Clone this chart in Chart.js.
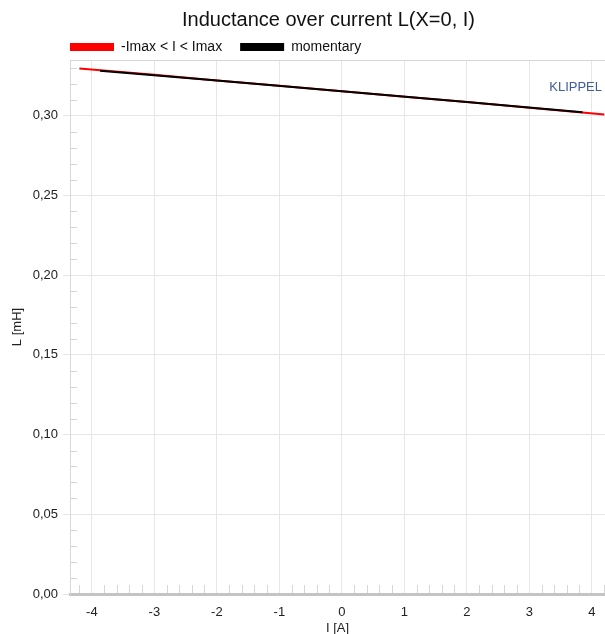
<!DOCTYPE html>
<html>
<head>
<meta charset="utf-8">
<title>Inductance over current</title>
<script src="https://cdn.jsdelivr.net/npm/chart.js@4.4.1/dist/chart.umd.min.js"></script>
<style>
    html, body { margin: 0; padding: 0; background: #fff; overflow: hidden; }
    #chart-l { display: block; }
</style>
</head>
<body>
<canvas id="chart-l" width="605" height="634"></canvas>
<script>
// datos
const corrienteRango = [-4.2, -3, -2, -1, 0, 1, 2, 3, 4.2];
const inductanciaRango = [0.3296, 0.3257, 0.3222, 0.3188, 0.3154, 0.3120, 0.3086, 0.3051, 0.3008];

const corrienteMomento = [-3.87, -2, 0, 2, 3.85];
const inductanciaMomento = [0.3283, 0.3222, 0.3154, 0.3086, 0.3022];

const etiquetasSerie = ["-Imax < I < Imax", "momentary"];
const ticksX = [-4, -3, -2, -1, 0, 1, 2, 3, 4];
const ticksY = [0, 0.05, 0.10, 0.15, 0.20, 0.25, 0.30];

const FUENTE = "'Liberation Sans', Arial, sans-serif";

function puntos(xs, ys) {
    return xs.map((x, i) => ({ x: x, y: ys[i] }));
}

// ticks menores, marco superior y logo
const decoracion = {
    id: "decoracion",
    afterLayout(chart) {
        // el eje Y usa todo el margen izquierdo para sus textos
        chart.scales.y.left = 0;
    },
    beforeDatasetsDraw(chart) {
        const { ctx, chartArea, scales } = chart;
        ctx.save();
        ctx.strokeStyle = "#d6d6d6";
        ctx.lineWidth = 1;
        ctx.beginPath();
        // linea superior del area
        ctx.moveTo(chartArea.left, chartArea.top + 0.5);
        ctx.lineTo(chartArea.right, chartArea.top + 0.5);
        // ticks menores eje Y
        for (let i = 1; i <= 33; i++) {
            if (i % 5 === 0) continue;
            const y = Math.round(scales.y.getPixelForValue(i / 100)) + 0.5;
            ctx.moveTo(chartArea.left, y);
            ctx.lineTo(chartArea.left + 7, y);
        }
        // ticks menores eje X
        for (let i = -21; i <= 21; i++) {
            if (i % 5 === 0) continue;
            const x = Math.round(scales.x.getPixelForValue(i / 5)) + 0.5;
            ctx.moveTo(x, chartArea.bottom - 9);
            ctx.lineTo(x, chartArea.bottom - 1);
        }
        ctx.stroke();
        ctx.restore();
    },
    afterDraw(chart) {
        const { ctx, chartArea } = chart;
        ctx.save();
        ctx.font = "13px " + FUENTE;
        ctx.fillStyle = "#3f5c9c";
        ctx.textAlign = "right";
        ctx.textBaseline = "alphabetic";
        ctx.fillText("KLIPPEL", chartArea.right - 3, 91);
        ctx.restore();
    }
};

const ctx = document.getElementById("chart-l").getContext("2d");

new Chart(ctx, {
    type: "line",
    data: {
        datasets: [
            {
                label: etiquetasSerie[0],
                data: puntos(corrienteRango, inductanciaRango),
                borderColor: "#ff0000",
                backgroundColor: "#ff0000",
                borderWidth: 2,
                pointRadius: 0,
                order: 2
            },
            {
                label: etiquetasSerie[1],
                data: puntos(corrienteMomento, inductanciaMomento),
                borderColor: "#000000",
                backgroundColor: "#000000",
                borderWidth: 2,
                pointRadius: 0,
                order: 1
            }
        ]
    },
    options: {
        responsive: false,
        animation: false,
        devicePixelRatio: 1,
        layout: { padding: { left: 52, right: 0, top: 0, bottom: 0 } },
        plugins: {
            title: {
                display: true,
                text: "Inductance over current L(X=0, I)",
                color: "#111",
                font: { family: FUENTE, size: 20, weight: "normal" },
                padding: { top: 8, bottom: -10 }
            },
            legend: {
                display: true,
                align: "start",
                maxHeight: 38,
                labels: {
                    color: "#111",
                    font: { family: FUENTE, size: 14 },
                    boxWidth: 44,
                    boxHeight: 8,
                    padding: 18,
                    sort: (a, b) => a.datasetIndex - b.datasetIndex,
                    generateLabels: (chart) => {
                        const items = Chart.defaults.plugins.legend.labels.generateLabels(chart);
                        items.forEach(it => { it.lineWidth = 0; });
                        return items;
                    }
                }
            },
            tooltip: { enabled: false }
        },
        scales: {
            x: {
                type: "linear",
                min: -4.35,
                max: 4.21,
                afterFit: (scale) => {
                    scale.height = 40;
                    scale.paddingLeft = 0;
                    scale.paddingRight = 0;
                },
                afterBuildTicks: (scale) => {
                    scale.ticks = ticksX.map(v => ({ value: v }));
                },
                grid: {
                    color: "#e6e6e6",
                    drawTicks: false
                },
                border: { color: "#c4c4c4", width: 3 },
                ticks: {
                    color: "#222",
                    font: { family: FUENTE, size: 13 },
                    padding: 11,
                    maxRotation: 0,
                    callback: (v) => String(v)
                },
                title: {
                    display: true,
                    text: "I [A]",
                    color: "#222",
                    font: { family: FUENTE, size: 13 },
                    padding: { top: 0, bottom: -2 }
                }
            },
            y: {
                type: "linear",
                min: 0,
                max: 0.335,
                afterFit: (scale) => { scale.width = 18; },
                afterBuildTicks: (scale) => {
                    scale.ticks = ticksY.map(v => ({ value: v }));
                },
                grid: {
                    color: "#e6e6e6",
                    tickLength: 7
                },
                border: { color: "#d8d8d8", width: 1 },
                ticks: {
                    color: "#222",
                    font: { family: FUENTE, size: 13 },
                    padding: 5,
                    callback: (v) => v.toFixed(2).replace(".", ",")
                },
                title: {
                    display: true,
                    text: "L [mH]",
                    color: "#222",
                    font: { family: FUENTE, size: 13 },
                    padding: { top: 10, bottom: 0 }
                }
            }
        }
    },
    plugins: [decoracion]
});
</script>
</body>
</html>
